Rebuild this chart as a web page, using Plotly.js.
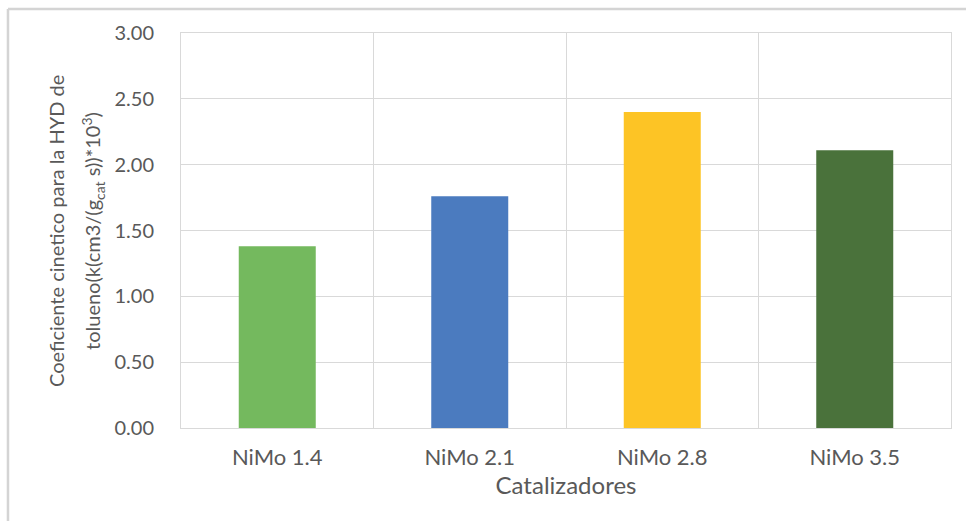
<!DOCTYPE html>
<html>
<head>
<meta charset="utf-8">
<script src="https://cdn.plot.ly/plotly-3.0.1.min.js"></script>
<style>html,body{margin:0;padding:0;background:#fff;}#chart{width:966px;height:521px;}</style>
</head>
<body>
<div id="chart"></div>
<script>
const categories = ['NiMo 1.4', 'NiMo 2.1', 'NiMo 2.8', 'NiMo 3.5'];
const values = [1.38, 1.76, 2.40, 2.11];
const barColors = ['#74B95E', '#4B7BBF', '#FDC425', '#4A723B'];
const yTicks = [0, 0.5, 1, 1.5, 2, 2.5, 3];
const yTickLabels = ['0.00', '0.50', '1.00', '1.50', '2.00', '2.50', '3.00'];
const yTitleLines = ['Coeficiente cinetico para la HYD de', 'tolueno(k(cm3/(g<sub>cat</sub> s))*10<sup>3</sup>)'];
const xTitle = 'Catalizadores';

const textColor = '#595959';
const gridColor = '#d9d9d9';
const fontFam = 'Lato, "Open Sans", sans-serif';

const data = [{
  type: 'bar',
  x: categories,
  y: values,
  width: 0.4,
  marker: {color: barColors, line: {width: 0}},
  hoverinfo: 'x+y'
}];

const layout = {
  width: 966,
  height: 521,
  margin: {l: 181, r: 15, t: 33, b: 93},
  paper_bgcolor: '#ffffff',
  plot_bgcolor: '#ffffff',
  showlegend: false,
  font: {family: fontFam, color: textColor},
  xaxis: {
    type: 'category',
    range: [-0.5, 3.5],
    tickson: 'boundaries',
    showgrid: true,
    gridcolor: gridColor,
    gridwidth: 1,
    ticks: '',
    showline: true,
    linecolor: gridColor,
    linewidth: 1,
    mirror: true,
    ticklabelstandoff: 10,
    tickfont: {size: 22, color: textColor, family: fontFam},
    title: {text: xTitle, font: {size: 24, color: textColor, family: fontFam}, standoff: 4},
    automargin: false,
    fixedrange: true
  },
  yaxis: {
    range: [0, 3],
    tickvals: yTicks,
    ticktext: yTickLabels,
    showgrid: true,
    gridcolor: gridColor,
    gridwidth: 1,
    zeroline: false,
    showline: true,
    linecolor: gridColor,
    linewidth: 1,
    mirror: true,
    ticks: '',
    ticklabelstandoff: 22,
    tickfont: {size: 20, color: textColor, family: fontFam},
    automargin: false,
    fixedrange: true
  },
  annotations: [
    {xref: 'paper', yref: 'paper', x: -0.163, y: 0.5, xanchor: 'center', yanchor: 'middle',
     textangle: -90, showarrow: false, text: yTitleLines[0],
     font: {size: 20, color: textColor, family: fontFam}},
    {xref: 'paper', yref: 'paper', x: -0.115, y: 0.5, xanchor: 'center', yanchor: 'middle',
     textangle: -90, showarrow: false, text: yTitleLines[1],
     font: {size: 20, color: textColor, family: fontFam}}
  ],
  shapes: [
    {type: 'line', xref: 'paper', yref: 'paper', x0: -0.2247, x1: -0.2247, y0: 1.0608, y1: -0.24,
     line: {color: '#d4d4d4', width: 2.5}},
    {type: 'line', xref: 'paper', yref: 'paper', x0: -0.2247, x1: 1.02, y0: 1.0608, y1: 1.0608,
     line: {color: '#d4d4d4', width: 2.5}}
  ]
};

Plotly.newPlot('chart', data, layout, {displayModeBar: false});
</script>
</body>
</html>
